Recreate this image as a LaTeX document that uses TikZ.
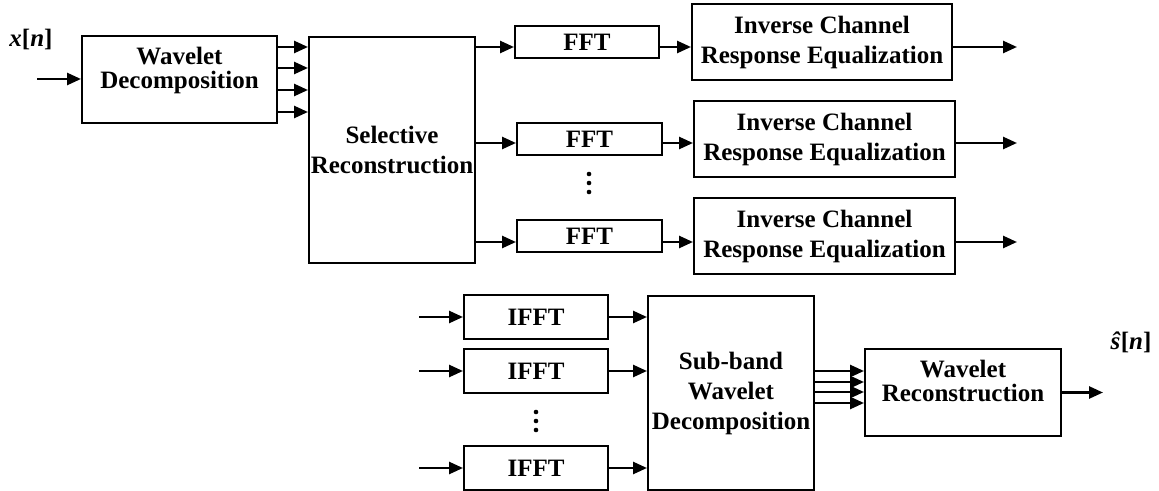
\documentclass[tikz,border=0pt]{standalone}
\usepackage{fontspec}
\setmainfont{Liberation Serif}
\usetikzlibrary{arrows.meta}
\begin{document}
\begin{tikzpicture}[x=0.5pt,y=-0.5pt,
    block/.style={draw,line width=1pt,inner sep=0pt,align=center,font=\bfseries\fontsize{12.5}{15}\selectfont},
    tight/.style={font=\bfseries\fontsize{12.5}{12}\selectfont},
    arr/.style={-{Triangle[length=7pt,width=6pt]},line width=1.3pt},
    sig/.style={font=\bfseries\fontsize{12.5}{15}\selectfont}]
    \useasboundingbox (0,0) rectangle (1159,491);

    \node[sig] (xn) at (31,40) {\textit{x}[\textit{n}]};
    \node[block,tight,minimum width=97.5pt,minimum height=43.5pt] (wd) at (179.5,79.5) {Wavelet\\Decomposition\\\mbox{}};
    \node[block,minimum width=83pt,minimum height=113pt] (sr) at (392,150) {Selective\\Reconstruction};

    \node[block,minimum width=72pt,minimum height=16pt] (fft1) at (587,42) {FFT};
    \node[block,minimum width=72.5pt,minimum height=16pt] (fft2) at (589.5,139) {FFT};
    \node[block,minimum width=72.5pt,minimum height=16pt] (fft3) at (589.5,236) {FFT};
    \coordinate (fdots) at (589,183);

    \node[block,minimum width=130pt,minimum height=38pt] (icre1) at (822,42) {Inverse Channel\\Response Equalization};
    \node[block,minimum width=130.5pt,minimum height=38pt] (icre2) at (824.5,139) {Inverse Channel\\Response Equalization};
    \node[block,minimum width=130.5pt,minimum height=38pt] (icre3) at (824.5,236) {Inverse Channel\\Response Equalization};

    \node[block,minimum width=72pt,minimum height=22pt] (ifft1) at (536,317) {IFFT};
    \node[block,minimum width=72pt,minimum height=22pt] (ifft2) at (536,371) {IFFT};
    \node[block,minimum width=72pt,minimum height=22pt] (ifft3) at (536,468) {IFFT};
    \coordinate (idots) at (536,421);

    \node[block,minimum width=83pt,minimum height=97pt] (swd) at (731,393) {Sub-band\\Wavelet\\Decomposition};
    \node[block,tight,minimum width=98pt,minimum height=43.5pt] (wr) at (963,392.5) {Wavelet\\Reconstruction\\\mbox{}};
    \node[sig] (sn) at (1131,342) {\textit{\^{s}}[\textit{n}]};

    % vertical dots
    \foreach \c in {fdots,idots}
        \foreach \d in {-9,0,9}
            \fill (\c) ++(0,\d) circle (1.15pt);

    % analysis chain
    \coordinate (xin) at (37,79);
    \draw[arr] (xin) -- (xin -| wd.west);
    \foreach \y in {47,68,90,112}
        \draw[arr] (wd.east |- 0,\y) -- (sr.west |- 0,\y);
    \foreach \i/\y in {1/47,2/143,3/242} {
        \coordinate (out\i) at (1017,\y);
        \draw[arr] (sr.east |- 0,\y) -- (fft\i.west |- 0,\y);
        \draw[arr] (fft\i.east |- 0,\y) -- (icre\i.west |- 0,\y);
        \draw[arr] (icre\i.east |- 0,\y) -- (out\i);
    }

    % synthesis chain
    \foreach \i in {1,2,3} {
        \coordinate (in\i) at ([xshift=-22pt]ifft\i.west);
        \draw[arr] (in\i) -- (ifft\i.west);
        \draw[arr] (ifft\i.east) -- (ifft\i.east -| swd.west);
    }
    \foreach \y in {371,382,392,403}
        \draw[arr] (swd.east |- 0,\y) -- (wr.west |- 0,\y);
    \coordinate (sout) at (1103,392.5);
    \draw[arr] (wr.east) -- (sout);
\end{tikzpicture}
\end{document}
